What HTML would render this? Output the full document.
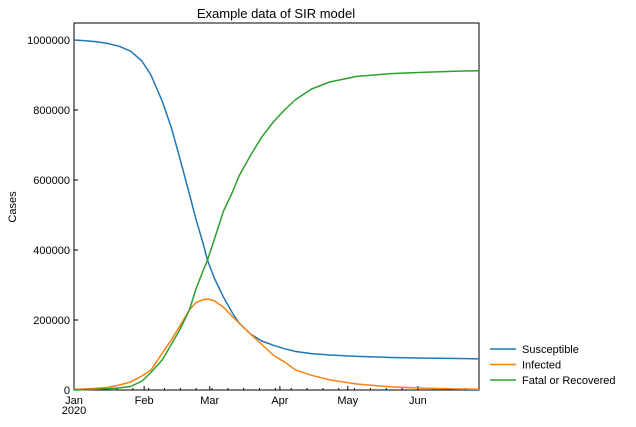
<!DOCTYPE html>
<html><head><meta charset="utf-8"><style>
body{margin:0;background:#fff;}
svg{font-family:"Liberation Sans","DejaVu Sans",sans-serif;}
</style></head><body>
<svg id="chart" width="636" height="422">
</svg>
<script>
const days=[0,5,10,15,20,25,30,34,39,43,47,51,54,57,59,62,66,70,73,78,83,88,93,98,105,113,125,140,155,170,179];
const susceptible=[1000,998,995,990,982,968,940,900,825,750,657,560,486,420,371,320,266,220,191,160,140,128,118,110,104,100,96,93,91,90,89];
const infected=[2,3,5,8,14,23,40,57,105,143,185,229,250,258,260,255,237,210,191,160,130,100,80,57,42,29,17,9,5,3,2];
const recovered=[0,1,2,4,6,10,25,50,86,130,175,229,290,340,371,430,510,565,612,670,723,765,800,830,860,880,896,904,908,911,912];
const yTicks=[0,200000,400000,600000,800000,1000000];
const monthLabels=["Jan","Feb","Mar","Apr","May","Jun"];
const monthDays=[0,31,60,91,121,152];
const L=74,R=479,T=23,B=390;
const X=d=>L+d*(R-L)/179;
const Y=v=>B-v/1000000*350;
const svg=document.getElementById('chart');
const NS='http://www.w3.org/2000/svg';
function mk(t,a,p){const e=document.createElementNS(NS,t);for(const k in a)e.setAttribute(k,a[k]);(p||svg).appendChild(e);return e;}
let e=mk('rect',{x:L,y:T,width:R-L,height:B-T,fill:'none',stroke:'#000','stroke-width':1});


e=mk('text',{x:276,y:18,'text-anchor':'middle','font-size':13});e.textContent='Example data of SIR model';


e=mk('text',{x:16,y:207,'text-anchor':'middle','font-size':11,transform:'rotate(-90 16 207)'});e.textContent='Cases';


yTicks.forEach(v=>{const y=Y(v);
 mk('line',{x1:L,x2:L+4,y1:y,y2:y,stroke:'#000'});
 const t=mk('text',{x:L-4,y:y+4,'text-anchor':'end','font-size':11});t.textContent=v;
 
 
});
for(let d=5;d<179;d+=7){mk('line',{x1:X(d),x2:X(d),y1:B,y2:B-2,stroke:'#000'});}
monthDays.forEach((d,i)=>{const x=X(d);
 mk('line',{x1:x,x2:x,y1:B,y2:B-4,stroke:'#000'});
 const t=mk('text',{x:x,y:B+14,'text-anchor':'middle','font-size':11});t.textContent=monthLabels[i];
 
 
});
e=mk('text',{x:X(0),y:B+24,'text-anchor':'middle','font-size':11});e.textContent='2020';


const series=[["Susceptible",susceptible,"#1f77b4"],["Infected",infected,"#ff7f0e"],["Fatal or Recovered",recovered,"#2ca02c"]];
series.forEach((s,i)=>{
 const p=mk('polyline',{points:days.map((d,j)=>X(d)+','+Y(s[1][j]*1000)).join(' '),fill:'none',stroke:s[2],'stroke-width':1.5,'stroke-linejoin':'round'});
 
 
 const ly=349+i*15.5;
 mk('line',{x1:490,x2:516,y1:ly,y2:ly,stroke:s[2],'stroke-width':1.5});
 const t=mk('text',{x:522,y:ly+4,'font-size':11});t.textContent=s[0];
 
 
});
</script>
</body></html>
